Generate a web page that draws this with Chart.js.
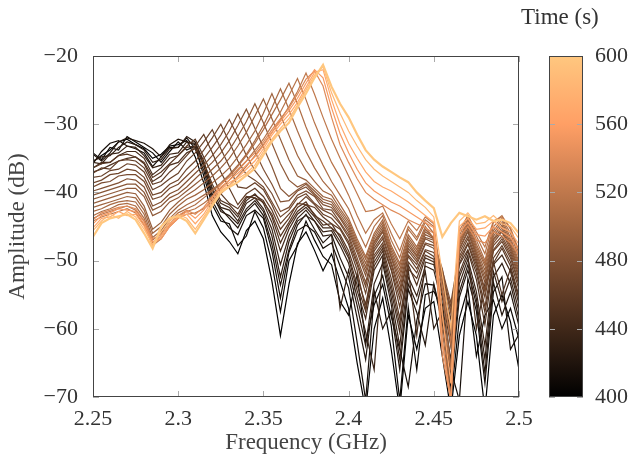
<!DOCTYPE html>
<html lang="en">
<head>
<meta charset="UTF-8">
<title>Spectra vs time</title>
<script src="https://cdn.jsdelivr.net/npm/chart.js"></script>
<style>
  body { margin: 0; background: #fff; }
  #wrap { position: relative; width: 630px; height: 459px; }
  canvas { position: absolute; top: 0; }
  #cbTitle { position: absolute; left: 521px; top: 4px; font: 23px "Liberation Serif", serif; color: #333; }
</style>
</head>
<body>
<div id="wrap">
  <canvas id="myChart" width="630" height="459" style="left:0"></canvas>
  <canvas id="cbChart" width="110" height="459" style="left:520px"></canvas>
  <div id="cbTitle">Time (s)</div>
</div>
<script>
// frequency grid (GHz)
const freqs = [2.25,2.255,2.26,2.265,2.27,2.275,2.28,2.285,2.29,2.295,
  2.3,2.305,2.31,2.315,2.32,2.325,2.33,2.335,2.34,2.345,
  2.35,2.355,2.36,2.365,2.37,2.375,2.38,2.385,2.39,2.395,
  2.4,2.405,2.41,2.415,2.42,2.425,2.43,2.435,2.44,2.445,
  2.45,2.455,2.46,2.465,2.47,2.475,2.48,2.485,2.49,2.495,2.5];

const times = [400,407,414,421,428,435,442,449,
  455,460,465,470,475,480,485,490,495,500,505,510,515,520,
  540,555,570,585,600];

const xTicks = [2.25,2.3,2.35,2.4,2.45,2.5];
const yTicks = [-70,-60,-50,-40,-30,-20];
const cbTicks = [400,440,480,520,560,600];

// amplitude (dB) of each sweep, one array per time
const s400 = [-35.5,-34.6,-33.8,-32.6,-32.2,-33,-33.6,-35,-34.4,-33.2,
  -33,-32.4,-34.8,-38.6,-43.4,-45.8,-47.2,-49,-45.6,-44.2,
  -46.8,-53,-61,-53.5,-47.5,-45.8,-48.5,-51.5,-49,-53,
  -57,-65,-72,-60,-55.5,-63,-72,-58,-63,-57,
  -56,-64,-72,-61,-56,-61,-72,-58,-55,-59,-66];
const s407 = [-34.2,-35.2,-33.4,-33.8,-31.8,-32.6,-33.4,-34.2,-35.6,-34,
  -32.6,-33.8,-33.2,-37.6,-41.8,-44.2,-44.6,-47.8,-46.4,-42.8,
  -45.2,-50.4,-57.5,-50,-47.8,-44.2,-47,-49.4,-50.6,-56,
  -58,-52,-62,-56.5,-53.5,-59.5,-70.5,-56.8,-66,-55,
  -54.5,-57,-70.5,-58.5,-54,-64,-58,-55.8,-60,-57,-61.5];
const s414 = [-35.8,-34,-32.8,-32.4,-33.2,-33.6,-34.2,-36.2,-34.8,-33.4,
  -33.4,-32,-33.6,-36.8,-41.2,-43.6,-45.2,-46.2,-43.4,-42.6,
  -43.8,-48.6,-55.5,-48.8,-45.6,-44.8,-45.8,-48.2,-47.4,-50.8,
  -54,-62,-70.5,-55.2,-52.2,-58.2,-63,-68.5,-58.8,-53.4,
  -53.6,-59.2,-66,-70.5,-52.6,-57.4,-68,-54.6,-52.4,-63,-60.8];
const s421 = [-34.4,-35.4,-34.2,-32.6,-32,-32.4,-32.8,-33.6,-34.8,-33,
  -32.2,-32.6,-33,-36.2,-40.6,-42.4,-43.8,-45.2,-42.8,-41.6,
  -43.4,-47.6,-53.6,-48.4,-44.8,-43.2,-45.4,-47.4,-46.2,-49.6,
  -52.4,-58.4,-64.5,-54.4,-60,-57.4,-66,-54.2,-57.6,-62.4,
  -53.4,-58.6,-68.5,-55.4,-51.4,-56.4,-66.5,-53.2,-58,-54.6,-59.6];
const s428 = [-35.4,-34.8,-34.6,-33.4,-32.6,-33,-33.8,-35.6,-35.2,-33.6,
  -33.4,-31.8,-32.6,-35.8,-40.2,-42.8,-43.4,-44.6,-42.4,-41.2,
  -42.8,-46.4,-52.4,-47.2,-44.2,-43.4,-44.2,-46.4,-46.2,-57,
  -51.4,-56.6,-62.5,-53.4,-50.4,-56.4,-64.5,-53.4,-56.4,-51.6,
  -60,-57.4,-66.5,-54.6,-50.6,-55.6,-64.5,-52.4,-50.4,-53.4,-58.6];
const s435 = [-35.6,-35.8,-34.4,-34.2,-33.2,-33.4,-34.6,-36.4,-36,-34.4,
  -34.2,-32.6,-32.8,-35.4,-39.6,-42.2,-42.6,-44.2,-41.6,-40.8,
  -42.4,-45.4,-50.6,-46.4,-43.8,-42.6,-44.2,-45.8,-45.6,-47.8,
  -50.4,-55.4,-60.5,-66,-49.8,-55.4,-62.5,-52.4,-55.2,-50.8,
  -51.4,-56.4,-64.5,-53.4,-49.8,-54.6,-62.5,-51.6,-56,-52.6,-57.4];
const s442 = [-36.4,-35.6,-35.6,-34.6,-34,-34,-35,-37.4,-36.4,-35,
  -34.6,-33.4,-33.2,-35.8,-39.4,-41.6,-42.2,-43.6,-41.2,-40.2,
  -41.6,-44.4,-48.6,-45.4,-43.2,-42.2,-43.6,-45.2,-45.2,-47.2,
  -49.6,-54.4,-58.5,-51.4,-49.2,-54.4,-60.5,-51.4,-61,-50.2,
  -50.6,-55.4,-62.5,-52.4,-49.2,-60,-53.4,-50.6,-49.2,-51.6,-56.4];
const s449 = [-37,-36.6,-36,-35.4,-35,-34.8,-35.8,-38.4,-37.6,-36,
  -35.6,-34.2,-33.6,-35.6,-38.8,-41.2,-41.8,-43.2,-40.8,-40.4,
  -41.2,-43.6,-47.4,-44.8,-42.8,-41.8,-43.2,-44.8,-44.6,-46.6,
  -49.2,-53.6,-57.4,-50.8,-48.6,-53.6,-59.4,-50.6,-53.6,-49.6,
  -50.2,-54.6,-61.4,-51.8,-48.6,-52.8,-59.4,-50.2,-55,-51.2,-55.6];
const s455 = [-36.4,-35.8,-35.6,-34.6,-34.4,-34.8,-35.6,-37.8,-37,-35.8,
  -34.6,-33.2,-32.2,-34.8,-37.4,-40.2,-41.6,-42.4,-40.6,-40.8,
  -41.4,-43.2,-46.4,-44.4,-42.2,-41.4,-43.4,-44.2,-45.2,-46.2,
  -48.6,-52.4,-56.4,-50.2,-48.2,-52.6,-58.4,-51.2,-52.6,-49.2,
  -49.8,-54.6,-60.4,-50.6,-48.4,-51.8,-57.6,-50.4,-48.2,-50.8,-55.2];
const s460 = [-37.2,-36.4,-36.6,-35.4,-35.2,-35.4,-36.4,-38.8,-38.4,-37,
  -36,-34.6,-33.2,-31.5,-34.2,-37,-39.4,-41.8,-40.2,-39.4,
  -40.6,-42.6,-45.4,-43.8,-41.6,-41.8,-42.2,-43.6,-44.6,-45.4,
  -47.6,-51.4,-57.2,-49.6,-47.8,-51.4,-56.8,-50.2,-51.8,-48.6,
  -49.4,-53.2,-58.6,-50.4,-47.6,-51.2,-56.8,-49.6,-47.8,-50.2,-54.2];
const s465 = [-37.8,-37.6,-36.8,-36.6,-35.8,-36,-37,-39.6,-39,-38,
  -37.2,-35.4,-34.2,-32.6,-30.8,-33.6,-36.2,-39.2,-39.4,-38.6,
  -39.6,-41.8,-44.6,-43.2,-41.8,-40.6,-41.8,-43.2,-43.8,-45.2,
  -47.2,-50.6,-54.8,-49.2,-47.4,-51.2,-55.6,-49.4,-51.2,-48.4,
  -48.8,-52.4,-57.6,-49.8,-47.4,-50.6,-55.4,-48.6,-47.2,-49.6,-53.6];
const s470 = [-38.6,-38.2,-37.4,-37.2,-36.6,-36.8,-37.8,-40.4,-40,-38.8,
  -38.2,-36.6,-35.4,-33.8,-32,-30,-32.6,-35.4,-37.4,-38.2,
  -39.2,-41.4,-43.6,-42.6,-40.8,-40.2,-41.6,-42.6,-43.2,-44.6,
  -46.6,-50.2,-53.8,-48.6,-46.8,-50.6,-54.8,-49.2,-50.6,-47.6,
  -48.2,-52.2,-56.8,-49.4,-46.8,-50.2,-54.6,-48.4,-46.8,-49.2,-53.2];
const s475 = [-39.2,-38.6,-38.4,-37.6,-37.4,-37.4,-38.4,-41,-40.6,-39.4,
  -38.8,-37.6,-36.4,-35,-33.4,-31.6,-29.3,-31.8,-34.6,-36.8,
  -38.4,-40.2,-42.8,-42.2,-40.4,-39.8,-40.6,-42.4,-42.6,-44.4,
  -46.2,-49.6,-53.2,-48.2,-46.4,-50.2,-54.2,-48.6,-50.2,-47.4,
  -47.8,-51.4,-56.2,-48.8,-46.4,-49.8,-54.2,-47.8,-46.4,-48.8,-52.6];
const s480 = [-39.8,-39.4,-39,-38.6,-38,-38.2,-39.2,-42,-41.4,-40.2,
  -39.6,-38.4,-37.2,-36,-34.6,-33,-31,-28.5,-31.2,-34,
  -36.6,-38.8,-41.4,-41.2,-39.8,-39.2,-40.4,-41.8,-42.2,-43.8,
  -45.8,-48.8,-52.2,-47.8,-45.8,-49.6,-53.4,-48.2,-49.8,-46.8,
  -47.4,-51.2,-57.6,-48.4,-45.8,-49.4,-53.2,-47.4,-45.8,-48.4,-52.2];
const s485 = [-40.4,-40,-39.6,-39.2,-38.8,-38.8,-40,-42.6,-42,-40.8,
  -40.2,-39.2,-38,-36.8,-35.6,-34.2,-32.4,-30.2,-27.8,-30.6,
  -33.4,-36.2,-39.4,-40.6,-39.6,-38.8,-40.2,-41.4,-41.8,-43.6,
  -45.4,-48.4,-51.6,-47.4,-45.6,-49.4,-52.6,-47.8,-49.4,-46.6,
  -47,-51.8,-60.2,-48.2,-45.6,-49,-52.6,-47,-45.6,-48,-51.8];
const s490 = [-41,-40.6,-40.2,-39.8,-39.4,-39.4,-40.6,-43.4,-42.8,-41.4,
  -40.8,-39.8,-38.8,-37.8,-36.6,-35.4,-33.8,-31.8,-29.6,-27,
  -29.8,-32.8,-35.8,-38.2,-39.2,-38.6,-39.8,-41,-41.4,-43.2,
  -45,-48,-51,-47.2,-45.2,-49,-52,-47.4,-49.2,-46.2,
  -46.8,-52.6,-62.4,-47.8,-45.2,-48.8,-52,-46.8,-45.2,-47.8,-51.4];
const s495 = [-41.6,-41.2,-40.8,-40.4,-40,-40.2,-42,-45.4,-44.4,-42.6,
  -41.4,-40.4,-39.6,-38.6,-37.6,-36.4,-35,-33.2,-31.2,-28.8,
  -26.3,-29.2,-32.2,-35.2,-37.6,-38.2,-39.4,-40.6,-41,-42.8,
  -44.6,-47.6,-50.4,-46.8,-44.8,-48.6,-51.4,-47,-48.8,-45.8,
  -46.6,-54.4,-65.6,-47.6,-44.8,-48.4,-51.4,-46.4,-44.8,-47.4,-51];
const s500 = [-42.2,-41.8,-41.4,-41,-40.6,-40.8,-42.6,-46,-45,-43.2,
  -42,-41,-40.4,-39.6,-38.6,-37.6,-36.4,-34.8,-33,-31,
  -28.4,-25.5,-28.6,-31.6,-34.6,-36.8,-38.4,-39.8,-40.4,-42.4,
  -44.2,-47.2,-49.8,-46.4,-44.4,-48.2,-50.8,-46.6,-48.4,-45.4,
  -46.8,-57.6,-70.5,-47.8,-44.4,-48,-50.8,-46,-44.4,-47,-50.6];
const s505 = [-42.8,-42.4,-41.8,-41.4,-41.2,-41.4,-43.2,-46.6,-45.6,-43.8,
  -42.6,-41.8,-41.2,-40.4,-39.6,-38.6,-37.4,-36,-34.4,-32.4,
  -30.2,-27.6,-24.8,-27.8,-31,-34,-36.4,-38.4,-39.8,-41.8,
  -43.8,-46.8,-49.4,-46,-44,-47.8,-50.4,-46.2,-48,-45,
  -46.8,-60.2,-70.5,-47.4,-44,-47.6,-50.4,-45.6,-44,-46.6,-50.2];
const s510 = [-43.4,-42.8,-42.4,-41.8,-41.6,-42,-43.8,-47,-46,-44.2,
  -43,-42.4,-41.8,-40.8,-39.8,-38.8,-37.6,-36.2,-34.6,-32.8,
  -30.8,-28.6,-26.4,-24,-27,-30.4,-33.4,-36,-38.4,-40.4,
  -42.4,-45.4,-48,-45,-43.4,-47,-49.6,-45.4,-47,-44.4,
  -46,-62,-70.5,-47,-43.8,-47,-50,-45,-43.8,-46,-49.6];
const s515 = [-43.8,-43.2,-42.8,-42.4,-42,-42.6,-44.2,-47.4,-46.4,-44.6,
  -43.4,-42.8,-42.4,-41.6,-40.6,-39.4,-38.2,-36.8,-35.4,-33.8,
  -32.2,-30.2,-28.2,-25.8,-23.3,-26.4,-29.8,-32.8,-35.6,-37.8,
  -40.4,-43.4,-46,-44,-43,-46,-48.6,-45,-46.6,-44,
  -45,-58,-66,-46.4,-43.4,-46.4,-49,-44.4,-43.4,-45.4,-49];
const s520 = [-44.2,-43.6,-43.2,-42.8,-42.4,-43,-44.8,-47.8,-46.8,-45,
  -43.8,-43.2,-43,-42.4,-41.4,-40.2,-39,-37.6,-36.2,-34.6,
  -33,-31.2,-29.4,-27.4,-25.2,-22.5,-25.6,-29,-32.2,-35,
  -37.6,-40.2,-42.8,-42.6,-42,-44.6,-46.8,-44.2,-45.6,-43.6,
  -44.6,-54,-62,-45.6,-43.4,-45.8,-48,-44.2,-43.6,-45.2,-48.6];
const s540 = [-44,-43,-42.6,-42.2,-42,-42.4,-44.2,-46.8,-46.2,-44.8,
  -43.4,-42.6,-43.2,-42.2,-40.6,-38.8,-37.8,-36.6,-35.4,-34.2,
  -32.6,-30.8,-29.2,-27.6,-25.6,-23.4,-22.2,-24.4,-29,-33,
  -35.6,-38,-40,-41,-41.8,-42.6,-43.2,-44,-44.6,-45.2,
  -46,-64,-70.5,-46.6,-45,-47,-47.4,-45.8,-46.4,-47.4,-49.2];
const s555 = [-44.6,-43.4,-43,-42.4,-42.6,-42.8,-44.6,-47.2,-46.8,-45,
  -43.8,-42.8,-43.8,-42.6,-40.8,-39.2,-38.2,-37.2,-36,-34.8,
  -33.2,-31.2,-29.6,-28,-26.2,-24,-22,-23.2,-27.6,-31.4,
  -34.2,-36.6,-38.6,-39.8,-40.6,-41.4,-42,-42.8,-43.6,-44.4,
  -45.2,-62,-70.5,-45.8,-44.4,-46.2,-46.4,-45,-45.8,-46.6,-48.4];
const s570 = [-45.2,-43.8,-43.6,-42.8,-43.4,-43.2,-45,-47.8,-46.4,-44.6,
  -43.6,-43.2,-44.6,-43.2,-41.2,-39.6,-38.6,-37.8,-36.6,-35.4,
  -33.6,-31.6,-30,-28.6,-26.8,-24.6,-22.4,-22,-26.4,-30,
  -32.8,-35,-37,-38.4,-39.2,-39.8,-40.6,-41.4,-42.4,-43.4,
  -44.4,-58,-68,-45,-43.8,-45.4,-45.2,-44.2,-45.2,-45.8,-47.6];
const s585 = [-45.6,-44.2,-43.2,-43.8,-42.8,-43.6,-45.4,-47.6,-45.8,-44.2,
  -43.2,-43.8,-45.4,-43.6,-41.6,-39.8,-39,-38,-37.2,-36,
  -34,-32.2,-30.6,-29.2,-27.2,-25,-22.8,-21.6,-25.4,-28.4,
  -31,-33.2,-35.2,-36.6,-37.6,-38.4,-39.2,-40,-41.2,-42.2,
  -43.6,-52,-60,-44.2,-43,-44.6,-44.4,-43.4,-44.6,-45,-46.8];
const s600 = [-46.5,-44.5,-43.8,-43.5,-43.2,-44,-46,-48.2,-45,-43.8,
  -43.5,-44.2,-46,-44,-42,-40,-39.2,-38.5,-37.5,-36.5,
  -34.5,-32.5,-31,-29.8,-27.5,-25.5,-23.2,-21.3,-24.5,-27,
  -29,-31.5,-33.8,-35.2,-36.2,-37,-37.8,-38.5,-40,-41.2,
  -42.3,-46.5,-44.5,-43,-43.5,-44,-43.5,-44.2,-44,-44.5,-46];

const series = [s400,s407,s414,s421,s428,s435,s442,s449,
  s455,s460,s465,s470,s475,s480,s485,s490,s495,s500,s505,s510,s515,s520,
  s540,s555,s570,s585,s600];

// matplotlib "copper" colormap
function copper(f) {
    const r = Math.min(1, 1.25 * f) * 255;
    const g = 0.7812 * f * 255;
    const b = 0.4975 * f * 255;
    return `rgb(${Math.round(r)}, ${Math.round(g)}, ${Math.round(b)})`;
}

const fonte = { family: '"Liberation Serif", serif', size: 22 };
const fonteTitulo = { family: '"Liberation Serif", serif', size: 23 };

function tracar(ctx, x1, y1, x2, y2) {
    ctx.beginPath();
    ctx.moveTo(x1, y1);
    ctx.lineTo(x2, y2);
    ctx.stroke();
}

// box + inward tick marks
const moldura = {
    id: 'moldura',
    afterDatasetsDraw(chart) {
        const { ctx, chartArea: a, scales } = chart;
        ctx.save();
        ctx.strokeStyle = '#aaa';
        ctx.lineWidth = 1;
        if (scales.x.options.display) {
            scales.x.ticks.forEach(t => {
                const px = Math.round(scales.x.getPixelForValue(t.value)) + 0.5;
                tracar(ctx, px, a.bottom, px, a.bottom - 6);
                tracar(ctx, px, a.top, px, a.top + 6);
            });
        }
        scales.y.ticks.forEach(t => {
            const py = Math.round(scales.y.getPixelForValue(t.value)) + 0.5;
            tracar(ctx, a.left, py, a.left + 6, py);
            tracar(ctx, a.right, py, a.right - 6, py);
        });
        ctx.strokeStyle = '#444';
        ctx.strokeRect(Math.round(a.left) + 0.5, Math.round(a.top) + 0.5,
            Math.round(a.width) - 1, Math.round(a.height) - 1);
        ctx.restore();
    }
};

const datasets = series.map((amps, i) => ({
    data: amps.map((a, j) => ({ x: freqs[j], y: a })),
    borderColor: copper((times[i] - 400) / 200),
    borderWidth: times[i] === 600 ? 2.2 : 1.2,
    pointRadius: 0,
    fill: false,
    tension: 0,
    order: series.length - i
}));

new Chart(document.getElementById('myChart'), {
    type: 'line',
    data: { datasets: datasets },
    options: {
        responsive: false,
        animation: false,
        layout: { padding: { left: 0, top: 56, right: 111, bottom: 0 } },
        plugins: { legend: { display: false }, tooltip: { enabled: false } },
        scales: {
            x: {
                type: 'linear',
                min: 2.25,
                max: 2.5,
                afterBuildTicks: s => { s.ticks = xTicks.map(v => ({ value: v })); },
                afterFit: s => { s.height = 62; },
                ticks: {
                    autoSkip: false, maxRotation: 0, padding: 1, color: '#333', font: fonte,
                    callback: v => String(+v.toFixed(2))
                },
                grid: { display: false },
                border: { display: false },
                title: { display: true, text: 'Frequency (GHz)', color: '#444', font: fonteTitulo, padding: { top: 0, bottom: 2 } }
            },
            y: {
                min: -70,
                max: -20,
                afterBuildTicks: s => { s.ticks = yTicks.map(v => ({ value: v })); },
                afterFit: s => { s.width = 93; },
                ticks: {
                    padding: 7, color: '#333', font: fonte,
                    callback: v => (v < 0 ? '\u2212' : '') + Math.abs(v)
                },
                grid: { display: false },
                border: { display: false },
                title: { display: true, text: 'Amplitude (dB)', color: '#444', font: fonteTitulo, padding: { bottom: 0 } }
            }
        }
    },
    plugins: [moldura]
});

// colour bar
new Chart(document.getElementById('cbChart'), {
    type: 'bar',
    data: {
        labels: ['tempo'],
        datasets: [{
            data: [[cbTicks[0], cbTicks[cbTicks.length - 1]]],
            backgroundColor: c => {
                const a = c.chart.chartArea;
                if (!a) return null;
                const g = c.chart.ctx.createLinearGradient(0, a.bottom, 0, a.top);
                for (let k = 0; k <= 10; k++) g.addColorStop(k / 10, copper(k / 10));
                return g;
            },
            borderWidth: 0,
            barPercentage: 1,
            categoryPercentage: 1
        }]
    },
    options: {
        responsive: false,
        animation: false,
        layout: { padding: { left: 29, top: 56, right: 0, bottom: 62 } },
        plugins: { legend: { display: false }, tooltip: { enabled: false } },
        scales: {
            x: { display: false },
            y: {
                position: 'right',
                min: 400,
                max: 600,
                afterBuildTicks: s => { s.ticks = cbTicks.map(v => ({ value: v })); },
                afterFit: s => { s.width = 47; },
                ticks: { padding: 4, color: '#333', font: fonte },
                grid: { display: false },
                border: { display: false }
            }
        }
    },
    plugins: [moldura]
});
</script>
</body>
</html>
